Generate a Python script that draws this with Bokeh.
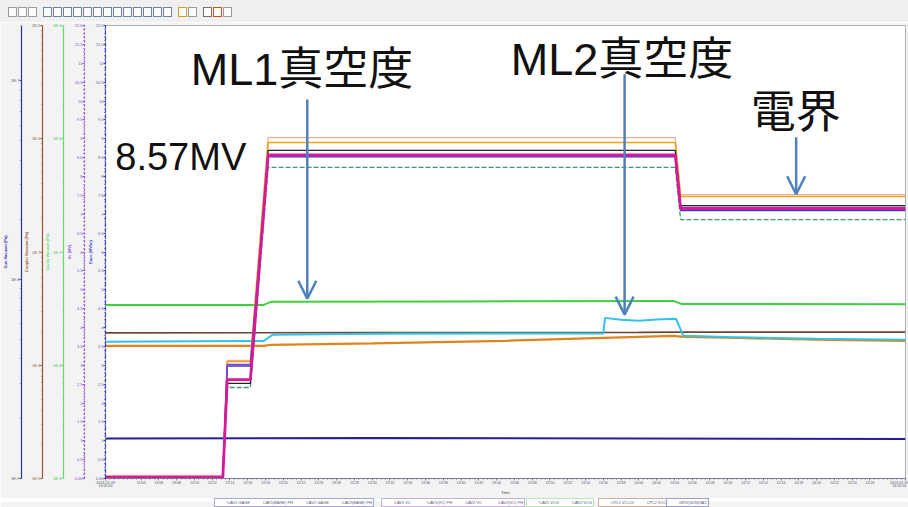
from bokeh.plotting import figure
from bokeh.models import (Range1d, LogScale, LinearAxis, LogAxis, FixedTicker,
                          Legend, LegendItem, Arrow, OpenHead, Label, Div)
from bokeh.layouts import column
from bokeh.embed import file_html
from bokeh.resources import INLINE

# ---- time axis: minutes after 2013-02-09 13:00:00 ----
x_ticks = [0] + list(range(4, 88, 2)) + [90]
x_tick_labels = (["2013-02-09\n13:00:00"]
                 + ["%d:%02d" % ((780 + m) // 60, (780 + m) % 60) for m in range(4, 88, 2)]
                 + ["2013-02-09\n14:30:00"])

# ---- RF field signals (MV) ----
rf_time = [0.0, 13.2, 13.7, 16.3, 18.3, 64.1, 64.7, 90.0]
cav2_vc_ph = [0.02, 0.02, 3.13, 3.13, 9.03, 9.03, 7.52, 7.52]
cav1_vc_ph = [0.02, 0.02, 3.10, 3.10, 8.90, 8.90, 7.47, 7.47]
cav2_base_ph = [0.03, 0.03, 2.52, 2.52, 8.69, 8.69, 7.23, 7.23]
cav1_gage = [0.02, 0.02, 2.98, 2.98, 8.52, 8.52, 7.10, 7.10]
cav1_vc = [0.02, 0.02, 3.02, 3.02, 8.55, 8.55, 7.18, 7.18]
cav1_base_ph = [0.06, 0.06, 2.60, 2.60, 8.57, 8.57, 7.15, 7.15]
cav2_vc = [0.03, 0.03, 2.62, 2.62, 8.57, 8.57, 7.15, 7.15]
cav2_gage = [0.02, 0.02, 2.41, 2.41, 8.24, 8.24, 6.86, 6.86]

# ---- vacuum signals (Pa) ----
cav1_vcg_time = [0.0, 17.8, 18.6, 40.0, 63.9, 64.8, 90.0]
cav1_vcg = [3.41e-8, 3.41e-8, 3.63e-8, 3.66e-8, 3.70e-8, 3.48e-8, 3.45e-8]

cav2_vcg_time = [0.0, 15.0, 17.8, 18.8, 30.0, 56.0, 56.2, 58.0, 60.0, 62.0, 64.2, 65.0, 70.0, 80.0, 90.0]
cav2_vcg = [1.61e-8, 1.64e-8, 1.64e-8, 1.86e-8, 1.90e-8, 1.91e-8, 2.62e-8, 2.52e-8,
            2.47e-8, 2.54e-8, 2.57e-8, 1.82e-8, 1.78e-8, 1.71e-8, 1.68e-8]

cpl1_vccg_time = [0.0, 30.0, 60.0, 64.5, 90.0]
cpl1_vccg = [1.93e-8, 1.94e-8, 1.95e-8, 1.96e-8, 1.96e-8]

cpl2_vccg_time = [0.0, 17.8, 18.6, 30.0, 45.0, 56.0, 63.9, 65.0, 70.0, 80.0, 90.0]
cpl2_vccg = [1.485e-8, 1.485e-8, 1.516e-8, 1.563e-8, 1.644e-8, 1.747e-8, 1.820e-8,
             1.78e-8, 1.75e-8, 1.68e-8, 1.644e-8]

gun_vac_time = [0.0, 30.0, 60.0, 90.0]
gun_vac = [1.59e-9, 1.60e-9, 1.59e-9, 1.58e-9]

# ---- axis ticks ----
field_ticks = [i * 0.5 for i in range(25)]
field_tick_labels = ["0.00", "0.5", "1", "1.5", "2", "2.5", "3", "3.5", "4", "4.5", "5", "5.5",
                     "6", "6.5", "7", "7.5", "8", "8.5", "9", "9.5", "10", "10.5", "11", "11.5", "12.0"]
vac_ticks = [1e-9, 1e-8, 1e-7, 1e-6, 1e-5]
vac_tick_labels = ["1E-9", "1E-8", "1E-7", "1E-6", "1E-5"]

SMALL = "4px"
LATIN_CJK = "'Liberation Sans', 'Noto Sans CJK JP'"
PANEL_BG = "#f3f3f3"

p = figure(width=908, height=476, x_range=Range1d(0, 90), y_range=Range1d(0, 12),
           output_backend="svg", toolbar_location=None,
           min_border_top=3, min_border_bottom=16, min_border_left=0, min_border_right=3,
           border_fill_color=PANEL_BG, background_fill_color="white",
           outline_line_color="#b0b0b0")
p.grid.visible = False

p.extra_y_ranges = {"cav": Range1d(1e-9, 1e-5), "cpl": Range1d(1e-9, 1e-5),
                    "gun": Range1d(1e-9, 1.9e-7)}
p.extra_y_scales = {"cav": LogScale(), "cpl": LogScale(), "gun": LogScale()}


def style_axis(ax, color, label_color, dash=None):
    ax.axis_line_color = color
    ax.axis_line_width = 1.2
    if dash:
        ax.axis_line_dash = dash
    ax.major_tick_line_color = color
    ax.minor_tick_line_color = color
    ax.major_tick_out = 2
    ax.major_tick_in = 0
    ax.minor_tick_out = 1
    ax.minor_tick_in = 0
    ax.major_label_text_font_size = SMALL
    ax.major_label_text_color = label_color
    ax.major_label_text_line_height = 1.0
    ax.major_label_standoff = 0
    ax.axis_label_text_font_size = SMALL
    ax.axis_label_text_font_style = "bold"
    ax.axis_label_text_color = color
    ax.axis_label_text_line_height = 1.0
    ax.axis_label_standoff = 0


# x axis (time)
xa = p.xaxis[0]
xa.ticker = FixedTicker(ticks=x_ticks, minor_ticks=[m * 0.5 for m in range(181)])
xa.major_label_overrides = dict(zip(x_ticks, x_tick_labels))
xa.axis_label = "Time"
style_axis(xa, "#7a7a9a", "#555566")
xa.major_label_text_font_size = "3.6px"
xa.major_label_text_line_height = 0.9
xa.axis_label_text_font_size = "3.8px"
xa.axis_label_text_line_height = 0.9
xa.axis_label_text_color = "#333344"
xa.axis_label_text_font_style = "normal"

# Eacc axis (innermost) and Vc axis
ea = p.yaxis[0]
ea.ticker = FixedTicker(ticks=field_ticks, minor_ticks=[i * 0.1 for i in range(121)])
ea.major_label_overrides = dict(zip(field_ticks, field_tick_labels))
ea.axis_label = "Eacc (MV/m)"
style_axis(ea, "#3c3ccc", "#6a5a9a", dash="4 2")

va = LinearAxis(axis_label="Vc (MV)")
va.ticker = FixedTicker(ticks=field_ticks, minor_ticks=[i * 0.1 for i in range(121)])
va.major_label_overrides = dict(zip(field_ticks, field_tick_labels))
style_axis(va, "#8a4ad0", "#8a4ad0", dash="2 2")
p.add_layout(va, "left")

vac_minor = [k * 10.0 ** d for d in range(-9, -5) for k in range(2, 10)]
ca = LogAxis(y_range_name="cav", axis_label="Cavity Vacuum (Pa)")
ca.ticker = FixedTicker(ticks=vac_ticks, minor_ticks=vac_minor)
ca.major_label_overrides = dict(zip(vac_ticks, vac_tick_labels))
style_axis(ca, "#6ad86a", "#4cc04c")
p.add_layout(ca, "left")

cp = LogAxis(y_range_name="cpl", axis_label="Coupler Vacuum (Pa)")
cp.ticker = FixedTicker(ticks=vac_ticks, minor_ticks=vac_minor)
cp.major_label_overrides = dict(zip(vac_ticks, vac_tick_labels))
style_axis(cp, "#a0522d", "#806050")
p.add_layout(cp, "left")

ga = LogAxis(y_range_name="gun", axis_label="Gun Vacuum (Pa)")
ga.ticker = FixedTicker(ticks=vac_ticks[:3], minor_ticks=vac_minor[:16] + [2e-7])
ga.major_label_overrides = dict(zip(vac_ticks[:3], vac_tick_labels[:3]))
style_axis(ga, "#3030a8", "#555566")
p.add_layout(ga, "left")

# ---- vacuum traces ----
r_gun = p.line(gun_vac_time, gun_vac, y_range_name="gun", color="#1f1f9f", line_width=2)
r_cpl1 = p.line(cpl1_vccg_time, cpl1_vccg, y_range_name="cpl", color="#6e4636", line_width=1.6)
r_cpl2 = p.line(cpl2_vccg_time, cpl2_vccg, y_range_name="cpl", color="#e0841c", line_width=2.2)
r_cav2v = p.line(cav2_vcg_time, cav2_vcg, y_range_name="cav", color="#33c3e6", line_width=2)
r_cav1v = p.line(cav1_vcg_time, cav1_vcg, y_range_name="cav", color="#3fcf3f", line_width=2)

# ---- RF traces ----
r_c2gage = p.line(rf_time, cav2_gage, color="#3c9a6e", line_width=1.3, line_dash="5 2")
r_c2vcph = p.line(rf_time, cav2_vc_ph, color="#f2ad98", line_width=1.3)
r_c1vcph = p.line(rf_time, cav1_vc_ph, color="#f0a30a", line_width=1.5)
r_c2bph = p.line(rf_time, cav2_base_ph, color="#222222", line_width=1.3)
r_c1gage = p.line(rf_time, cav1_gage, color="#2f3fbf", line_width=1.5)
r_c1vc = p.line(rf_time, cav1_vc, color="#8a3fd1", line_width=1.5)
r_c1bph = p.line(rf_time, cav1_base_ph, color="#e02020", line_width=1.5)
r_c2vc = p.line(rf_time, cav2_vc, color="#d4199b", line_width=2.8)

# ---- call-outs ----
arrow_blue = "#4f81bd"
callout_arrows = [(22.7, 10.04, 4.76), (58.4, 10.71, 4.34), (77.7, 9.04, 7.53)]
for ax_t, y0, y1 in callout_arrows:
    p.add_layout(Arrow(end=OpenHead(size=18, line_color=arrow_blue, line_width=2.5),
                       x_start=ax_t, y_start=y0, x_end=ax_t, y_end=y1,
                       line_color=arrow_blue, line_width=2.5))

callout_texts = [("ML1真空度", 9.6, 10.84, "45px"),
                 ("ML2真空度", 45.6, 11.10, "45px"),
                 ("電界", 72.6, 9.70, "45px"),
                 ("8.57MV", 1.1, 8.51, "38px")]
for txt, tx, ty, size in callout_texts:
    p.add_layout(Label(x=tx, y=ty, text=txt, text_font=LATIN_CJK, text_font_size=size,
                       text_color="#111111", text_baseline="middle", text_align="left"))

# ---- legend strip: grouped boxes under the time axis ----
# (the column aligns this strip's frame with the main frame, so offsets are frame-relative)
lg = figure(width=908, height=9, x_range=Range1d(0, 1), y_range=Range1d(0, 1),
            output_backend="svg", toolbar_location=None,
            x_axis_location=None, y_axis_location=None,
            min_border=0, border_fill_color=PANEL_BG, background_fill_color=PANEL_BG,
            outline_line_color=None)
lg.grid.visible = False


def proxy(renderer):
    g = renderer.glyph
    return lg.line([], [], line_color=g.line_color, line_width=min(g.line_width, 1.5),
                   line_dash=g.line_dash)


legend_groups = [
    (109, "#5050b0", [("CAV1 GAGE", r_c1gage), ("CAV1(BASE) PH", r_c1bph),
                      ("CAV2 GAGE", r_c2gage), ("CAV2(BASE) PH", r_c2bph)]),
    (276, "#9060c0", [("CAV1 VC", r_c1vc), ("CAV1(VC) PH", r_c1vcph),
                      ("CAV2 VC", r_c2vc), ("CAV2(VC) PH", r_c2vcph)]),
    (421, "#70d070", [("CAV1 VCG", r_cav1v), ("CAV2 VCG", r_cav2v)]),
    (493, "#a06040", [("CPL1 VCCG", r_cpl1), ("CPL2 VCCG", r_cpl2)]),
    (561, "#4040a0", [("GRV(GUN)VAC", r_gun)]),
]
for x_off, border, entries in legend_groups:
    leg = Legend(items=[LegendItem(label=t, renderers=[proxy(r)]) for t, r in entries],
                 location=(x_off, 0), orientation="horizontal",
                 label_text_font_size="4px", label_text_color="#555577",
                 label_height=5, label_standoff=1, glyph_width=10, glyph_height=5,
                 spacing=2, padding=1, margin=0,
                 border_line_color=border, border_line_width=1,
                 background_fill_color="white", background_fill_alpha=1)
    lg.add_layout(leg)

# ---- toolbar strip ----
icon_colors = ["#9a9a9a"] * 3 + [None] + ["#7080a0"] * 13 + [None] + ["#d8a020", "#9a9a9a"] + [None] + ["#707070", "#d05020", "#9a9a9a"]
icons = ""
for c in icon_colors:
    if c is None:
        icons += '<span style="display:inline-block;width:5px"></span>'
    else:
        icons += ('<span style="display:inline-block;width:9px;height:10px;margin-right:1px;'
                  'border:1px solid %s;background:#fbfbfb;box-sizing:border-box"></span>' % c)
toolbar = Div(text='<div style="padding:7px 0 0 8px;line-height:10px">%s</div>' % icons,
              width=908, height=22, margin=0,
              styles={"background-color": "#f0f0f0"})

layout = column(toolbar, p, lg, spacing=0)
open("out.html", "w").write(file_html(layout, INLINE))
